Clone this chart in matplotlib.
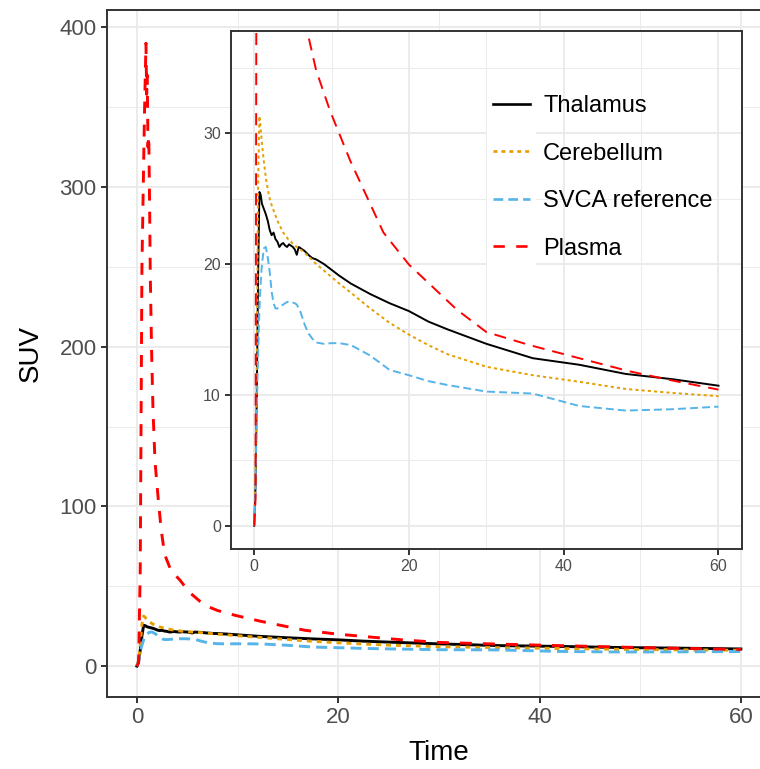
import matplotlib
matplotlib.use("Agg")
import matplotlib.pyplot as plt
from matplotlib.lines import Line2D
from matplotlib.patches import Rectangle
from matplotlib.legend_handler import HandlerLine2D

plt.rcParams['font.family'] = ['Liberation Sans', 'DejaVu Sans']

# ---------------- data ----------------
frame_times = [0, 0.17, 0.33, 0.5, 0.67, 0.83, 1.0, 1.25, 1.5, 1.75, 2.0, 2.25, 2.5,
               2.75, 3.0, 3.25, 3.5, 3.75, 4.0, 4.25, 4.5, 4.75, 5.0, 5.25, 5.5, 5.75,
               6.0, 6.5, 7.0, 7.5, 8.0, 9.0, 10.0, 11.0, 12.5, 15.0, 17.5, 20.0, 22.5,
               25.0, 30.0, 36.0, 42.0, 48.0, 54.0, 60.0]
thalamus = [0, 3, 10, 19, 25.5, 25.3, 24.6, 24.2, 23.8, 23.3, 22.6, 22.2, 22.4,
            21.9, 21.7, 21.3, 21.5, 21.6, 21.4, 21.3, 21.5, 21.4, 21.3, 21.1, 20.7, 21.3,
            21.2, 21.0, 20.7, 20.45, 20.35, 20.0, 19.55, 19.1, 18.5, 17.7, 17.0, 16.4, 15.6,
            15.0, 13.9, 12.8, 12.3, 11.6, 11.2, 10.7]
cerebellum = [0, 4, 13, 26, 31.3, 30.4, 29.2, 27.8, 26.6, 25.7, 25.0, 24.5, 24.1,
              23.7, 23.3, 23.0, 22.7, 22.4, 22.2, 22.0, 21.8, 21.7, 21.55, 21.4, 21.3, 21.2,
              21.1, 20.85, 20.6, 20.3, 20.0, 19.5, 19.0, 18.5, 17.8, 16.6, 15.5, 14.6, 13.8,
              13.1, 12.15, 11.5, 11.0, 10.45, 10.15, 9.9]
svca_ref = [0, 3, 9, 13, 16.5, 18.5, 20.0, 21.2, 21.3, 20.5, 19.4, 17.9, 17.0,
            16.6, 16.6, 16.7, 16.8, 16.9, 17.0, 17.1, 17.1, 17.1, 17.05, 17.0, 16.9, 16.6,
            16.3, 15.4, 14.7, 14.3, 14.0, 13.9, 13.95, 13.95, 13.8, 13.0, 11.9, 11.5, 11.05,
            10.75, 10.25, 10.1, 9.15, 8.8, 8.9, 9.1]

plasma_times = [0, 0.17, 0.33, 0.5, 0.75, 0.9, 0.97, 1.03, 1.1, 1.18, 1.26, 1.33, 1.45,
                1.6, 1.8, 2.1, 2.4, 2.75, 3.4, 4.25, 5.25, 6.25, 7.0, 8.0, 9.8, 12.4,
                16.7, 20.0, 26.2, 30.0, 35.6, 42.0, 48.5, 54.0, 60.0]
plasma = [0, 2, 60, 250, 345, 390, 358, 370, 325, 332, 290, 245, 200,
          160, 128, 106, 86, 70, 59.6, 54, 46, 40.6, 37.4, 34.8, 31.7, 27.9,
          22.4, 19.95, 16.5, 14.8, 13.8, 12.8, 11.8, 11.1, 10.4]

series_names = ["Thalamus", "Cerebellum", "SVCA reference", "Plasma"]
series_colors = ["#000000", "#E69F00", "#56B4E9", "#FF0000"]

x_ticks = [0, 20, 40, 60]
main_y_ticks = [0, 100, 200, 300, 400]
inset_y_ticks = [0, 10, 20, 30]

# ---------------- style helpers ----------------
W, H = 760, 769
BORDER = '#333333'
GRID = '#EBEBEB'
TXT = '#4D4D4D'


def style_axes(ax, labelsize):
    for s in ax.spines.values():
        s.set_color(BORDER)
        s.set_linewidth(1.4)
    ax.set_axisbelow(True)
    ax.grid(which='major', color=GRID, lw=1.4)
    ax.grid(which='minor', color=GRID, lw=0.7)
    ax.tick_params(which='major', length=4.3, width=1.4, color=BORDER,
                   labelcolor=TXT, labelsize=labelsize, pad=3)
    ax.tick_params(which='minor', length=0)


fig = plt.figure(figsize=(W / 100, H / 100), dpi=100)

# main axes (right edge runs past the image, as in the reference)
mx0, mx1, my0, my1 = 106.7, 771.1, 697.3, 10.0
ax = fig.add_axes([mx0 / W, (H - my0) / H, (mx1 - mx0) / W, (my0 - my1) / H])
ax.set_xlim(-3, 63)
ax.set_ylim(-19.56, 410.8)
ax.set_xticks(x_ticks)
ax.set_xticks([10, 30, 50], minor=True)
ax.set_yticks(main_y_ticks)
ax.set_yticks([50, 150, 250, 350], minor=True)
style_axes(ax, 16)
ax.set_xlabel("Time", fontsize=20, color='black', labelpad=8)
ax.set_ylabel("SUV", fontsize=20, color='black', labelpad=11)

lw_main = 2.1
ax.plot(frame_times, thalamus, color=series_colors[0], lw=lw_main)
ax.plot(frame_times, cerebellum, color=series_colors[1], lw=lw_main, dashes=(1.7, 1.7))
ax.plot(frame_times, svca_ref, color=series_colors[2], lw=lw_main, dashes=(3.8, 2.1))
ax.plot(plasma_times, plasma, color=series_colors[3], lw=lw_main, dashes=(4.1, 3.8))

# inset axes
ix0, ix1, iy0, iy1 = 231.0, 741.7, 549.3, 31.0
axi = fig.add_axes([ix0 / W, (H - iy0) / H, (ix1 - ix0) / W, (iy0 - iy1) / H])
axi.set_facecolor('white')
axi.set_xlim(-3, 63)
axi.set_ylim(-1.8, 37.8)
axi.set_xticks(x_ticks)
axi.set_xticks([10, 30, 50], minor=True)
axi.set_yticks(inset_y_ticks)
axi.set_yticks([5, 15, 25, 35], minor=True)
style_axes(axi, 11.5)

lw_in = 1.4
axi.plot(frame_times, thalamus, color=series_colors[0], lw=lw_in)
axi.plot(frame_times, cerebellum, color=series_colors[1], lw=lw_in, dashes=(1.6, 1.6))
axi.plot(frame_times, svca_ref, color=series_colors[2], lw=lw_in, dashes=(4.1, 2.1))
axi.plot(plasma_times, plasma, color=series_colors[3], lw=lw_in, dashes=(6.2, 4.1))


class KeyHandler(HandlerLine2D):
    def create_artists(self, legend, orig_handle, xdescent, ydescent, width,
                       height, fontsize, trans):
        arts = super().create_artists(legend, orig_handle, xdescent, ydescent,
                                      width, height, fontsize, trans)
        padx = 4.5
        hh = 34
        rect = Rectangle((-xdescent - padx, -ydescent + height / 2 - hh / 2),
                         width + 2 * padx, hh, facecolor='white',
                         edgecolor='none', transform=trans)
        return [rect] + arts


lw_leg = 1.9
handles = [
    Line2D([], [], color=series_colors[0], lw=lw_leg),
    Line2D([], [], color=series_colors[1], lw=lw_leg, dashes=(1.5, 1.5)),
    Line2D([], [], color=series_colors[2], lw=lw_leg, dashes=(3.7, 1.9)),
    Line2D([], [], color=series_colors[3], lw=lw_leg, dashes=(4.3, 4.3)),
]
leg = axi.legend(handles, series_names, loc='center left',
                 bbox_to_anchor=(493 / W, (H - 177.5) / H),
                 bbox_transform=fig.transFigure, frameon=False,
                 fontsize=17, handlelength=1.57, handletextpad=0.55,
                 labelspacing=1.08, borderpad=0, borderaxespad=0,
                 handler_map={Line2D: KeyHandler()})
leg.set_zorder(5)

fig.savefig("out.png", dpi=100)
